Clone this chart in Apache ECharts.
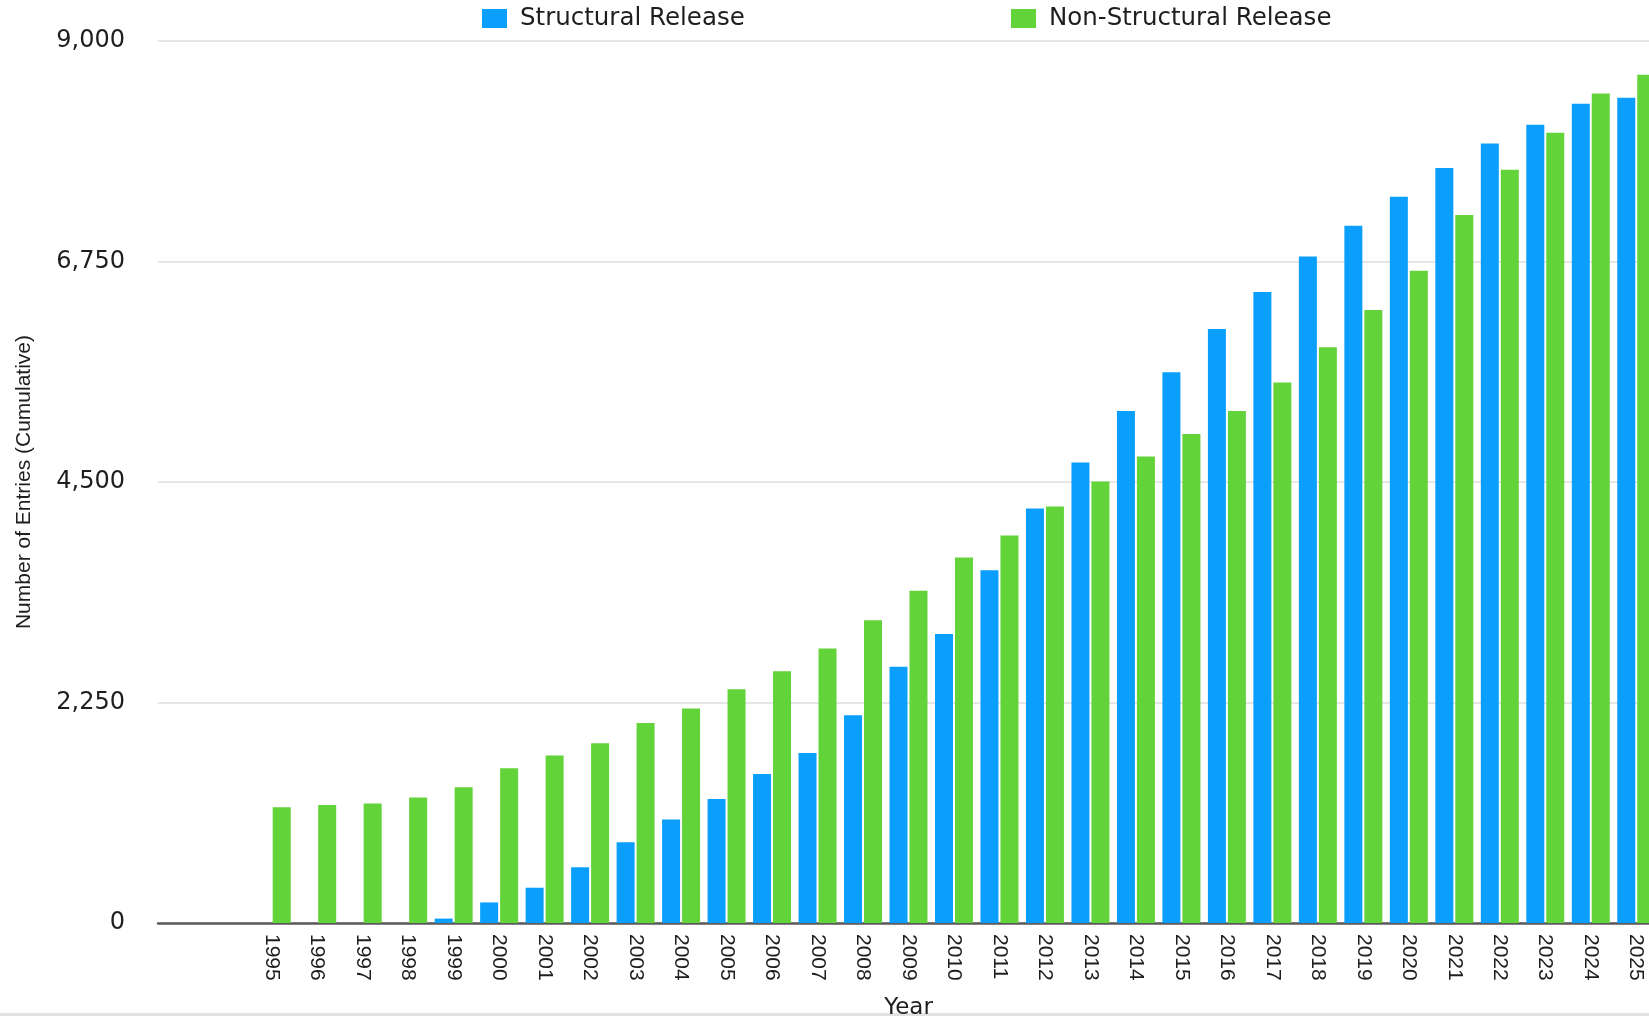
<!DOCTYPE html>
<html>
<head>
<meta charset="utf-8">
<script src="https://cdn.jsdelivr.net/npm/echarts@6/dist/echarts.min.js"></script>
<style>
  html, body { margin: 0; padding: 0; background: #ffffff; }
  #chart { width: 1649px; height: 1017px; }
</style>
</head>
<body>
<div id="chart"></div>
<script>
// Cumulative entry counts per year, by release type
const years = ['1995', '1996', '1997', '1998', '1999', '2000', '2001', '2002', '2003', '2004',
  '2005', '2006', '2007', '2008', '2009', '2010', '2011', '2012', '2013', '2014',
  '2015', '2016', '2017', '2018', '2019', '2020', '2021', '2022', '2023', '2024', '2025'];

const structuralRelease = [0, 0, 0, 0, 45, 210, 360, 570, 825, 1055,
  1265, 1520, 1735, 2120, 2615, 2950, 3600, 4230, 4700, 5225,
  5620, 6060, 6440, 6800, 7115, 7410, 7705, 7955, 8145, 8360, 8420];

const nonStructuralRelease = [1180, 1205, 1220, 1280, 1385, 1580, 1710, 1835, 2040, 2190,
  2385, 2570, 2800, 3090, 3390, 3730, 3955, 4250, 4505, 4760,
  4990, 5225, 5515, 5875, 6255, 6655, 7225, 7685, 8065, 8465, 8655];

const yTicks = [0, 2250, 4500, 6750, 9000];

const seriesNames = ['Structural Release', 'Non-Structural Release'];
const seriesColors = ['#0a9ffd', '#62d338'];

// the year axis keeps two empty slots ahead of the first year
const blankSlots = ['', ''];
const categories = blankSlots.concat(years);
const pad = blankSlots.map(() => null);

const chart = echarts.init(document.getElementById('chart'), null, { renderer: 'canvas' });

const legendText = {
  color: '#1e1e1e',
  fontFamily: 'DejaVu Sans',
  fontSize: 24.5,
  padding: [0, 0, 0, 8]
};

chart.setOption({
  animation: false,
  backgroundColor: '#ffffff',
  color: seriesColors,
  legend: [
    {
      data: [seriesNames[0]],
      left: 477, top: 1,
      icon: 'rect', itemWidth: 25, itemHeight: 19,
      textStyle: legendText
    },
    {
      data: [seriesNames[1]],
      left: 1006, top: 1,
      icon: 'rect', itemWidth: 25, itemHeight: 19,
      textStyle: legendText
    }
  ],
  grid: {
    left: 158, right: -10, top: 41, bottom: 94,
    containLabel: false,
    outerBoundsMode: 'none'
  },
  xAxis: {
    type: 'category',
    data: categories,
    name: 'Year',
    nameLocation: 'middle',
    nameGap: 74,
    nameTextStyle: { color: '#1e1e1e', fontFamily: 'DejaVu Sans', fontSize: 23 },
    axisLine: { show: true, lineStyle: { color: '#5a5a5a', width: 2.5 } },
    axisTick: { show: false },
    axisLabel: {
      rotate: -90,
      interval: 0,
      margin: 11,
      color: '#1e1e1e',
      fontFamily: 'Liberation Sans',
      fontSize: 21
    },
    splitLine: { show: false }
  },
  yAxis: {
    type: 'value',
    min: yTicks[0],
    max: yTicks[yTicks.length - 1],
    interval: yTicks[1] - yTicks[0],
    name: 'Number of Entries (Cumulative)',
    nameLocation: 'middle',
    nameRotate: 90,
    nameGap: 123,
    nameTextStyle: { color: '#1e1e1e', fontFamily: 'Liberation Sans', fontSize: 21 },
    axisLine: { show: false },
    axisTick: { show: false },
    axisLabel: {
      margin: 33,
      color: '#1e1e1e',
      fontFamily: 'DejaVu Sans',
      fontSize: 24,
      formatter: v => v.toLocaleString('en-US')
    },
    splitLine: { show: true, lineStyle: { color: '#dedede', width: 1.5 } }
  },
  series: [
    {
      name: seriesNames[0],
      type: 'bar',
      data: pad.concat(structuralRelease),
      barWidth: 18,
      barGap: '11%',
      itemStyle: { color: seriesColors[0] }
    },
    {
      name: seriesNames[1],
      type: 'bar',
      data: pad.concat(nonStructuralRelease),
      barWidth: 18,
      barGap: '11%',
      itemStyle: { color: seriesColors[1] }
    }
  ],
  graphic: [
    {
      type: 'rect',
      left: 0,
      top: 1013,
      shape: { width: 1649, height: 3 },
      style: { fill: '#e2e2e2' },
      silent: true
    }
  ]
});
</script>
</body>
</html>
